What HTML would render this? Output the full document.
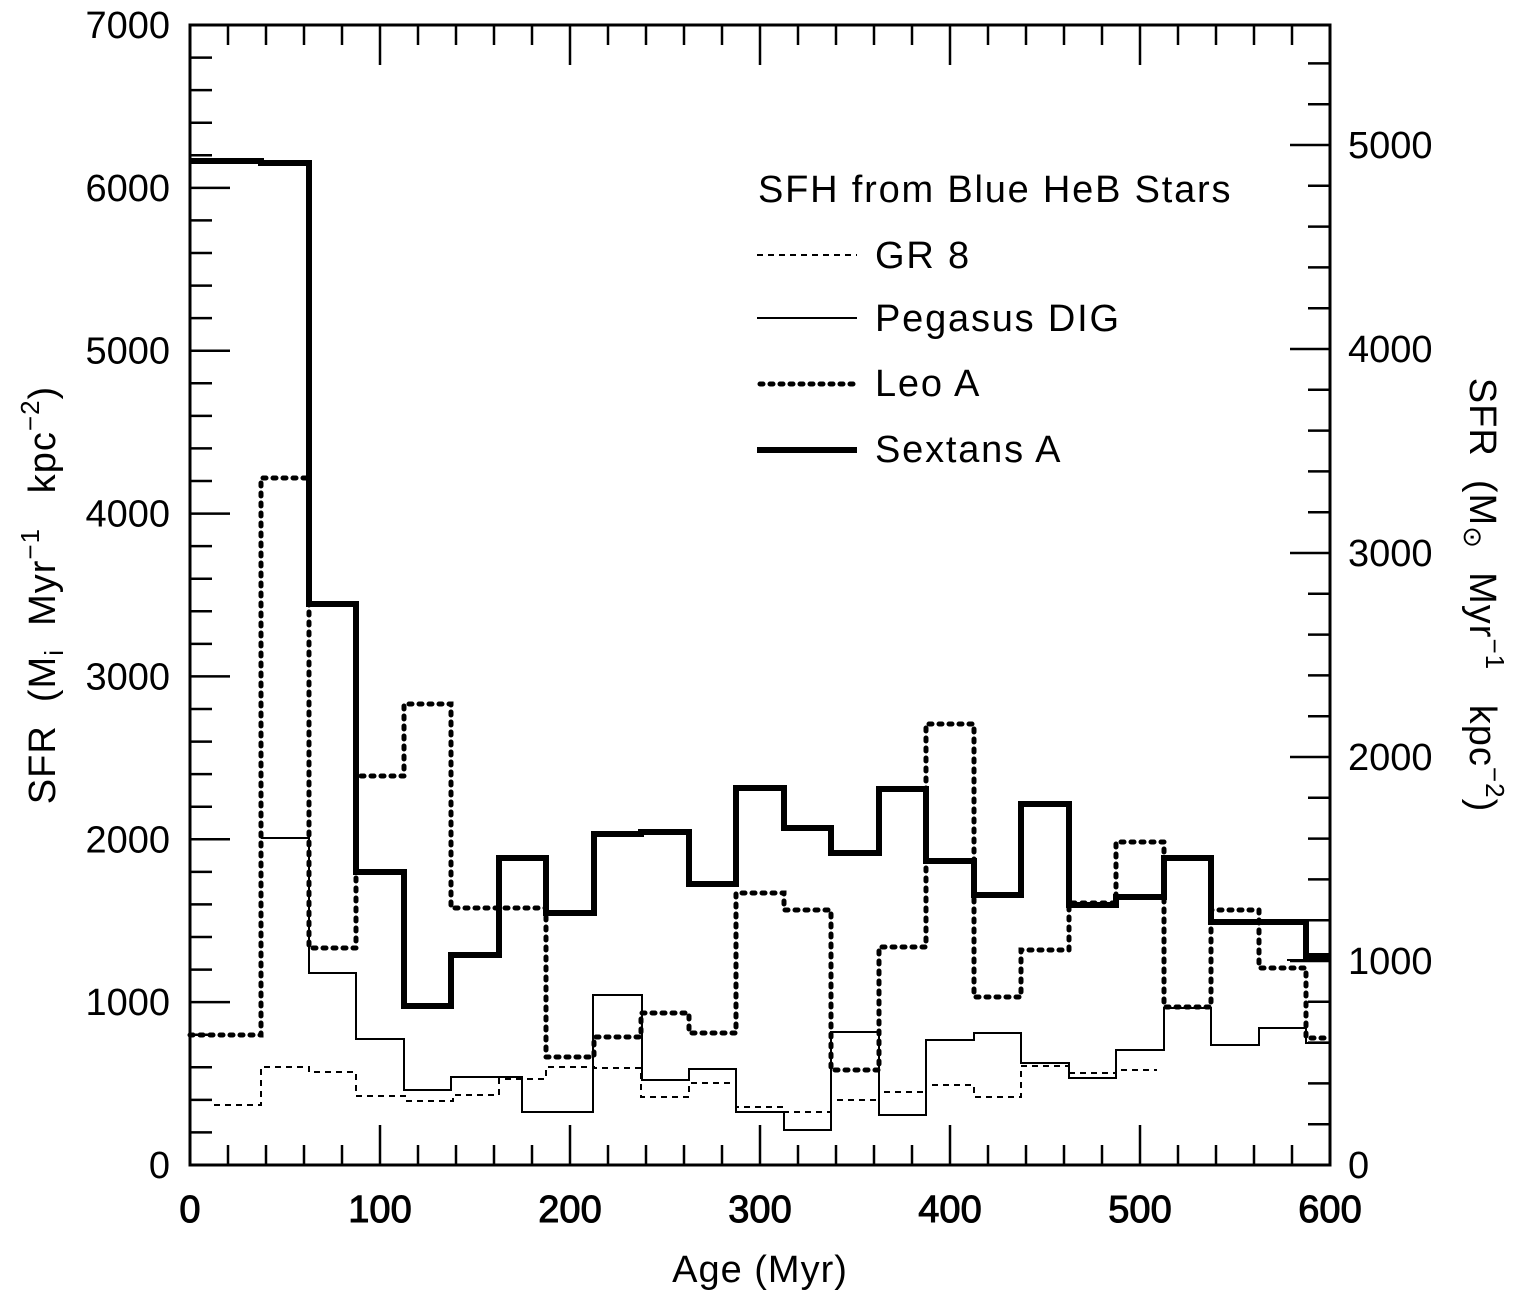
<!DOCTYPE html>
<html><head><meta charset="utf-8"><style>
html,body{margin:0;padding:0;background:#fff;}
svg{display:block;font-family:"Liberation Sans",Arial,sans-serif;}
</style></head><body>
<svg id="s" width="1519" height="1297" viewBox="0 0 1519 1297" xmlns="http://www.w3.org/2000/svg">
<rect width="1519" height="1297" fill="#fff"/>
<g id="ticks" stroke="#000" stroke-width="2.5"></g>
<rect x="190" y="25" width="1140" height="1140" fill="none" stroke="#000" stroke-width="3"/>
<g font-size="38" fill="#000">
<g id="lab"></g>
<text x="760" y="1282" text-anchor="middle" letter-spacing="1">Age (Myr)</text>
<text transform="translate(55,595) rotate(-90)" text-anchor="middle" xml:space="preserve" letter-spacing="1">SFR  (M<tspan font-size="26" dy="8">i</tspan><tspan dy="-8">  Myr</tspan><tspan font-size="26" dy="-16">−1</tspan><tspan dy="16">   kpc</tspan><tspan font-size="26" dy="-16">−2</tspan><tspan dy="16">)</tspan></text>
<text transform="translate(1470,595) rotate(90)" text-anchor="middle" xml:space="preserve" letter-spacing="1">SFR  (M<tspan font-size="26" dy="6">⊙</tspan><tspan dy="-6">  Myr</tspan><tspan font-size="26" dy="-16">−1</tspan><tspan dy="16">   kpc</tspan><tspan font-size="26" dy="-16">−2</tspan><tspan dy="16">)</tspan></text>
<g font-size="38" letter-spacing="1.8">
<text x="758" y="202">SFH from Blue HeB Stars</text>
<text x="875" y="268">GR 8</text>
<text x="875" y="331">Pegasus DIG</text>
<text x="875" y="396">Leo A</text>
<text x="875" y="462">Sextans A</text>
</g>
</g>
<g fill="none" stroke="#000">
<path stroke-width="2" stroke-dasharray="6 5" d="M214 1105 H261 V1067 H309 V1072 H356 V1096 H407 V1101 H453 V1095 H499 V1079 H546 V1067 H594 V1068 H641 V1097 H689 V1083 H736 V1107 H784 V1112 H831 V1100 H879 V1092 H926 V1085 H974 V1097 H1021 V1066 H1069 V1073 H1116 V1070 H1157"/>
<path stroke-width="2" d="M261 838 H309 V973 H356 V1039 H404 V1090 H451 V1077 H522 V1112 H593 V995 H642 V1080 H689 V1069 H736 V1112 H784 V1130 H831 V1032 H879 V1115 H926 V1040 H974 V1033 H1021 V1063 H1069 V1078 H1116 V1050 H1164 V1008 H1211 V1045 H1259 V1028 H1306 V1043 H1330 M1287 960 H1330"/>
<path stroke-width="5" stroke-linecap="round" stroke-dasharray="3 7" d="M190 1035 H261 V478 H309 V948 H356 V776 H404 V704 H451 V908 H546 V1057 H594 V1037 H641 V1013 H689 V1033 H736 V893 H784 V910 H831 V1070 H879 V947 H926 V724 H974 V997 H1021 V950 H1069 V903 H1116 V842 H1164 V1007 H1211 V910 H1259 V968 H1306 V1038 H1330"/>
<path stroke-width="6" d="M190 161 H261 V163 H309 V604 H356 V872 H404 V1006 H451 V955 H499 V858 H546 V913 H594 V834 H641 V832 H689 V884 H736 V788 H784 V828 H831 V853 H879 V789 H926 V861 H974 V895 H1021 V804 H1069 V905 H1116 V897 H1164 V858 H1211 V922 H1306 V956 H1330"/>
<path stroke-width="2" stroke-dasharray="6 5" d="M757 255 H857"/>
<path stroke-width="2" d="M757 318 H857"/>
<path stroke-width="5" stroke-linecap="round" stroke-dasharray="3 7" d="M760 384 H857"/>
<path stroke-width="6" d="M757 450 H857"/>
</g>
<script>
var t=document.getElementById('ticks'),l=document.getElementById('lab'),NS='http://www.w3.org/2000/svg';
function ln(x1,y1,x2,y2){var e=document.createElementNS(NS,'line');e.setAttribute('x1',x1);e.setAttribute('y1',y1);e.setAttribute('x2',x2);e.setAttribute('y2',y2);t.appendChild(e);}
function tx(x,y,s,a,b){var e=document.createElementNS(NS,'text');e.setAttribute('x',x);e.setAttribute('y',y);e.setAttribute('text-anchor',a);if(b){e.setAttribute('stroke','#000');e.setAttribute('stroke-width','1');}e.textContent=s;l.appendChild(e);}
for(var v=0;v<=600;v+=20){var x=190+v*1.9,L=(v%100==0)?40:20;ln(x,1165,x,1165-L);ln(x,25,x,25+L);if(v%100==0)tx(x,1222,String(v),'middle',true);}
for(var v=0;v<=7000;v+=200){var y=1165-v*1140/7000,L=(v%1000==0)?40:22;ln(190,y,190+L,y);if(v%1000==0)tx(170,y+13,String(v),'end');}
for(var v=0;v<=5400;v+=200){var y=1165-v*0.204;if(y<25)break;var L=(v%1000==0)?40:22;ln(1330,y,1330-L,y);if(v%1000==0)tx(1348,y+13,String(v),'start');}
</script>
</svg>
</body></html>
